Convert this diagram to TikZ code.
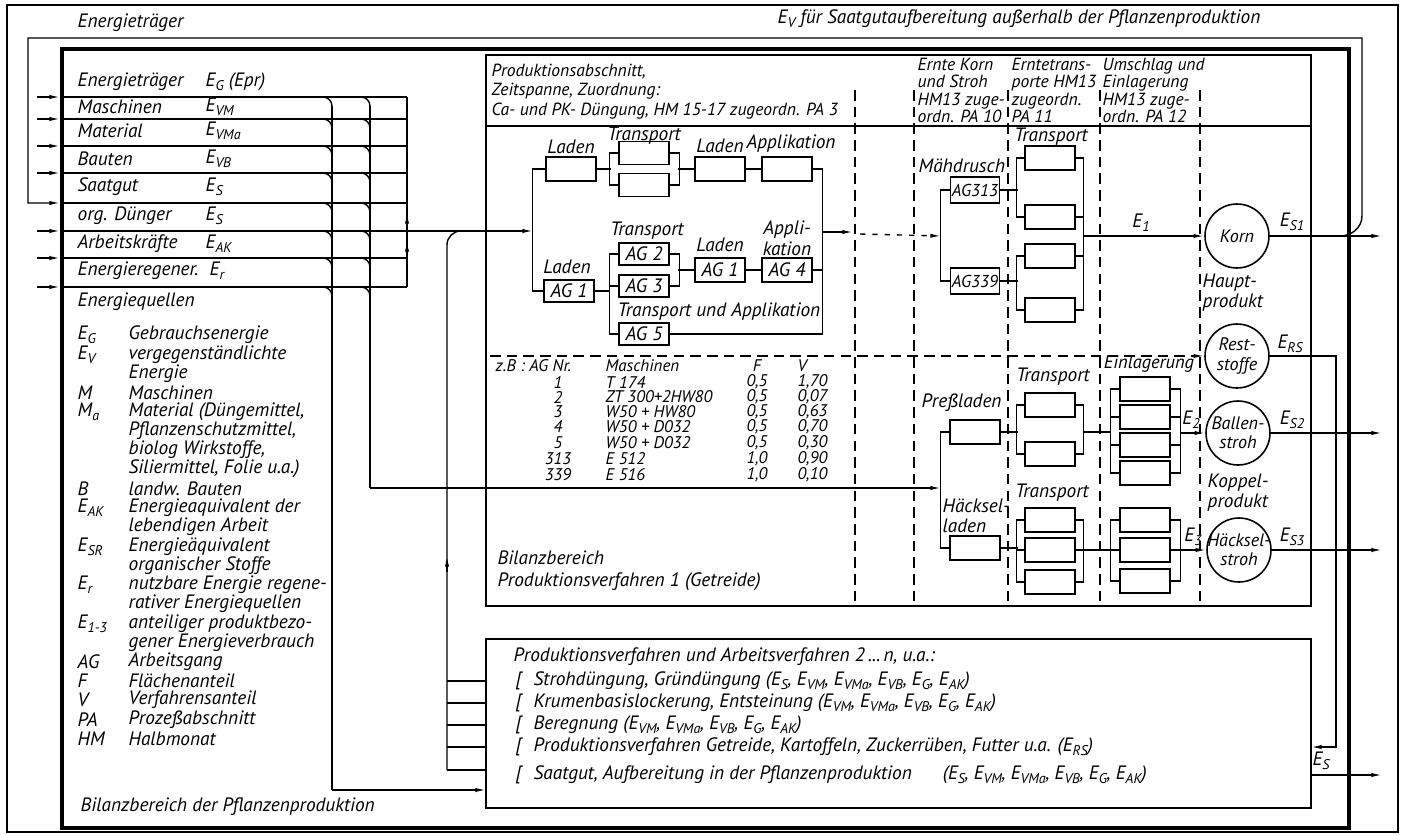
\documentclass[tikz,border=0pt]{standalone}
\usepackage{fontspec}
\setmainfont{PT Sans}
\usetikzlibrary{arrows.meta}
\newcommand\idx[1]{\raisebox{-0.45ex}{\fontsize{8}{8}\selectfont #1}}
\begin{document}
\begin{tikzpicture}[x=0.02cm,y=-0.02cm,line width=0.8pt,
    every node/.style={inner sep=0pt,font=\itshape\fontsize{11}{12}\selectfont},
    txt/.style={anchor=west},
    hd/.style={anchor=north west,align=left,font=\itshape\fontsize{10}{10}\selectfont},
    tab/.style={font=\itshape\fontsize{9.6}{9}\selectfont},
    blk/.style={draw,line width=0.9pt,minimum width=1.0cm,minimum height=0.48cm},
    prod/.style={draw,circle,line width=0.9pt,minimum size=1.28cm},
    ptxt/.style={align=center,font=\itshape\fontsize{10.3}{11}\selectfont},
    frm/.style={line width=2pt},
    flow/.style={-{Latex[length=6pt,width=2.4pt]}},
    sect/.style={dash pattern=on 6pt off 3.5pt}]
    \useasboundingbox (0,0) rectangle (1411,835);

    \draw (7,5) rectangle (1398,832);
    \draw[frm] (62,49) rectangle (1349,828);
    \draw[line width=1.4pt] (486,55) rectangle (1311,606);
    \draw[line width=1.4pt] (486,639) rectangle (1311,808);
    \draw (486,126) -- (1311,126);

    \node[txt] (etrg) at (77,23) {Energieträger};
    \node[txt] (evsa) at (777,19) {E\idx{V} für Saatgutaufbereitung außerhalb der Pflanzenproduktion};
    \node[txt] (bpfl) at (80,807) {Bilanzbereich der Pflanzenproduktion};

    \coordinate (ruek) at (1362,38);
    \coordinate (saat) at (60,203);
    \draw[flow] (1340,236) to[out=0,in=-90] (1362,216) -- (ruek) -- (28,38) -- (28,203) -- (saat);

    \foreach \y in {97,119,146,173,231,258,287}
        \draw[flow] (37,\y) -- (60,\y);
    \foreach \y in {97,119,146,173,203,231,258,287}
        \draw (60,\y) -- (407,\y);
    \draw (407,97) -- (407,287);
    \draw[flow] (407,226) -- (407,213);
    \draw[flow] (407,254) -- (407,241);
    \foreach \x in {332,370}
        \foreach \y in {97,119,146,173,203,231,258,287}
            \draw (\x-9,\y) to[out=0,in=90] (\x,\y+9);

    \coordinate (pv2in) at (486,790);
    \coordinate (strin) at (941,488);
    \coordinate (pa3in) at (533,231);
    \draw (332,106) -- (332,790);
    \draw[flow] (332,790) -- (pv2in);
    \draw (370,106) -- (370,488);
    \draw[flow] (370,488) -- (strin);
    \draw[flow] (407,231) -- (pa3in);
    \draw (447,770) -- (447,245) to[out=90,in=180] (461,231);
    \draw[flow] (447,572) -- (447,556);
    \foreach \y in {681,703,725,747,770}
        \draw (447,\y) -- (486,\y);

    \node[txt] at (77,82) {Energieträger};
    \node[txt] at (205,82) {E\idx{G} (Epr)};
    \node[txt] at (77,107) {Maschinen};
    \node[txt] at (205,107) {E\idx{VM}};
    \node[txt] at (77,131) {Material};
    \node[txt] at (205,131) {E\idx{VMa}};
    \node[txt] at (77,159) {Bauten};
    \node[txt] at (205,159) {E\idx{VB}};
    \node[txt] at (77,187) {Saatgut};
    \node[txt] at (205,187) {E\idx{S}};
    \node[txt] at (77,216) {org. Dünger};
    \node[txt] at (205,216) {E\idx{S}};
    \node[txt] at (77,244) {Arbeitskräfte};
    \node[txt] at (205,244) {E\idx{AK}};
    \node[txt] at (77,271) {Energieregener.};
    \node[txt] at (209,271) {E\idx{r}};
    \node[txt] at (77,302) {Energiequellen};

    \foreach \y/\s/\t in {335/E\idx{G}/Gebrauchsenergie, 355/E\idx{V}/vergegenständlichte,
            374//Energie, 393/M/Maschinen, 412/M\idx{a}/{Material (Düngemittel,},
            431//{Pflanzenschutzmittel,}, 450//{biolog Wirkstoffe,}, 469//{Siliermittel, Folie u.a.)},
            489/B/landw. Bauten, 508/E\idx{AK}/Energieaquivalent der, 527//lebendigen Arbeit,
            547/E\idx{SR}/Energieäquivalent, 566//organischer Stoffe,
            585/E\idx{r}/nutzbare Energie regene-, 604//rativer Energiequellen,
            624/E\idx{1-3}/anteiliger produktbezo-, 643//gener Energieverbrauch,
            662/AG/Arbeitsgang, 681/F/Flächenanteil, 700/V/Verfahrensanteil,
            720/PA/Prozeßabschnitt, 739/HM/Halbmonat}{
        \node[txt] at (77,\y) {\s};
        \node[txt] at (128,\y) {\t};
    }

    \node[anchor=north west,align=left,font=\itshape\fontsize{10}{11.2}\selectfont] (pabs) at (491,63)
        {Produktionsabschnitt,\\Zeitspanne, Zuordnung:\\Ca- und PK- Düngung, HM 15-17 zugeordn. PA 3};
    \node[hd] (hdk) at (917,57) {Ernte Korn\\und Stroh\\HM13 zuge-\\ordn. PA 10};
    \node[hd] (hdt) at (1011,57) {Erntetrans-\\porte HM13\\zugeordn.\\PA 11};
    \node[hd] (hde) at (1102,57) {Umschlag und\\Einlagerung\\HM13 zuge-\\ordn. PA 12};
    \foreach \x in {855,914,1008,1100,1200}
        \draw[sect] (\x,90) -- (\x,606);

    \node[blk] (ul1) at (571,169) {};
    \node[blk,minimum height=0.46cm] (ut1) at (644,153) {};
    \node[blk,minimum height=0.46cm] (ut2) at (644,185) {};
    \node[blk] (ul2) at (720,169) {};
    \node[blk] (uap) at (787,169) {};
    \node at (571,147) {Laden};
    \node at (644,136) {Transport};
    \node at (720,146) {Laden};
    \node at (791,144) {Applikation};

    \node[blk,minimum height=0.44cm] (ag1) at (569,291) {AG 1};
    \node[blk,minimum height=0.44cm] (ag2) at (644,254) {AG 2};
    \node[blk,minimum height=0.44cm] (ag3) at (644,286) {AG 3};
    \node[blk,minimum height=0.44cm] (ag5) at (644,334) {AG 5};
    \node[blk] (ag1m) at (720,270) {AG 1};
    \node[blk] (ag4) at (787,270) {AG 4};
    \node at (567,267) {Laden};
    \node at (647,231) {Transport};
    \node at (720,245) {Laden};
    \node[align=center,font=\itshape\fontsize{11}{12}\selectfont] at (787,238) {Appli-\\kation};
    \node[txt] at (617,312) {Transport und Applikation};

    \draw (ul1.west) -- ++(-13,0) |- (ag1.west);
    \draw (ul1.east) -- ++(14,0);
    \draw (ut1.west) -- ++(-8.5,0) |- (ut2.west);
    \draw (ut1.east) -- ++(9.5,0) |- (ut2.east);
    \draw (ul2.west) -- ++(-16,0);
    \draw (ul2.east) -- (uap.west);
    \draw (uap.east) -- ++(10,0) |- (ag5.east);
    \draw (ag1.east) -- ++(15,0);
    \draw (ag2.west) -- ++(-8.5,0) |- (ag5.west);
    \draw (ag3.west) -- ++(-8.5,0);
    \draw (ag2.east) -- ++(9.5,0) |- (ag3.east);
    \draw (ag1m.west) -- ++(-16,0);
    \draw (ag1m.east) -- (ag4.west);
    \draw (ag4.east) -- ++(10,0);
    \coordinate (pa3out) at (822,232);
    \coordinate (mdin) at (941,236);
    \draw[flow] (pa3out) -- ++(31,0);
    \draw[flow,dash pattern=on 3pt off 4pt] (860,234) -- (mdin);

    \node[tab,anchor=west] at (495,366) {z.B : AG Nr.};
    \node[tab,anchor=west] at (605,366) {Maschinen};
    \node[tab] at (757,366) {F};
    \node[tab,anchor=west] at (797,366) {V};
    \foreach \y/\n/\m/\f/\v in {382/1/T 174/{0,5}/{1,70}, 397/2/ZT 300+2HW80/{0,5}/{0,07},
            412/3/W50 + HW80/{0,5}/{0,63}, 427/4/W50 + D032/{0,5}/{0,70},
            443/5/W50 + D032/{0,5}/{0,30}, 459/313/E 512/{1,0}/{0,90},
            475/339/E 516/{1,0}/{0,10}}{
        \node[tab] at (558,\y) {\n};
        \node[tab,anchor=west] at (605,\y) {\m};
        \node[tab] at (757,\y) {\f};
        \node[tab,anchor=west] at (797,\y) {\v};
    }
    \draw[sect] (490,356) -- (1196,356);
    \node[txt] at (497,558) {Bilanzbereich};
    \node[txt] at (497,582) {Produktionsverfahren 1 (Getreide)};

    \node[blk,minimum width=0.98cm,minimum height=0.52cm,font=\itshape\fontsize{9.8}{10}\selectfont] (md1) at (975,190) {AG313};
    \node[blk,minimum width=0.98cm,minimum height=0.52cm,font=\itshape\fontsize{9.8}{10}\selectfont] (md2) at (975,281) {AG339};
    \node[txt] at (918,166) {Mähdrusch};
    \node[blk] (tk1) at (1050,158) {};
    \node[blk] (tk2) at (1050,217) {};
    \node[blk] (tk3) at (1050,256) {};
    \node[blk] (tk4) at (1050,310) {};
    \node at (1051,137) {Transport};
    \draw (md1.west) -- ++(-9.5,0) |- (md2.west);
    \draw (md1.east) -- ++(17.5,0);
    \draw (md2.east) -- ++(17.5,0);
    \draw (tk1.west) -- ++(-8,0) |- (tk2.west);
    \draw (tk3.west) -- ++(-8,0) |- (tk4.west);
    \draw (tk1.east) -- ++(8,0) |- (tk4.east);
    \draw (tk2.east) -- ++(8,0);
    \draw (tk3.east) -- ++(8,0);

    \node[prod] (korn) at (1237,236) {};
    \node[prod] (rest) at (1237,356) {};
    \node[prod] (ball) at (1238,433) {};
    \node[prod] (hst) at (1239,550) {};
    \node[ptxt] at (korn) {Korn};
    \node[ptxt] at (rest) {Rest-\\stoffe};
    \node[ptxt] at (ball) {Ballen-\\stroh};
    \node[ptxt] at (hst) {Häcksel-\\stroh};
    \draw[flow,dash pattern=on 6pt off 3.5pt] (1196,356) -- (rest.west);
    \node[txt,align=left,font=\itshape\fontsize{11}{11.5}\selectfont] at (1202,293) {Haupt-\\produkt};
    \node[txt,align=left,font=\itshape\fontsize{11}{11.5}\selectfont] at (1207,493) {Koppel-\\produkt};

    \coordinate (e1) at (1083,236);
    \draw[flow] (e1) -- (korn.west);
    \node at (1141,223) {E\idx{1}};

    \node[blk] (pl) at (975,432) {};
    \node[blk] (hl) at (975,548) {};
    \node[txt] at (921,403) {Preßladen};
    \node[txt,align=left,font=\itshape\fontsize{11}{11.5}\selectfont] at (942,516) {Häcksel-\\laden};
    \draw (pl.west) -- ++(-9,0) |- (hl.west);

    \node[blk] (tb1) at (1050,405) {};
    \node[blk] (tb2) at (1050,454) {};
    \node at (1053,377) {Transport};
    \draw (pl.east) -- ++(17,0);
    \draw (tb1.west) -- ++(-8,0) |- (tb2.west);
    \draw (tb1.east) -- ++(8,0) |- (tb2.east);
    \node[blk] (eb1) at (1145,389) {};
    \node[blk] (eb2) at (1145,417) {};
    \node[blk] (eb3) at (1145,445) {};
    \node[blk] (eb4) at (1145,473) {};
    \node[font=\itshape\fontsize{10.5}{11}\selectfont] at (1149,364) {Einlagerung};
    \draw (eb1.west) -- ++(-9,0) |- (eb4.west);
    \draw (eb2.west) -- ++(-9,0);
    \draw (eb3.west) -- ++(-9,0);
    \draw (eb1.east) -- ++(10,0) |- (eb4.east);
    \draw (eb2.east) -- ++(10,0);
    \draw (eb3.east) -- ++(10,0);
    \coordinate (tbo) at (1083,432);
    \coordinate (ebi) at (1111,432);
    \draw (tbo) -- (ebi);
    \coordinate (e2) at (1180,433);
    \draw[flow] (e2) -- (ball.west);
    \node at (1191,420) {E\idx{2}};

    \node[blk] (th1) at (1050,520) {};
    \node[blk] (th2) at (1050,550) {};
    \node[blk] (th3) at (1050,582) {};
    \node at (1052,493) {Transport};
    \draw (hl.east) -- ++(17,0);
    \draw (th1.west) -- ++(-8,0) |- (th3.west);
    \draw (th2.west) -- ++(-8,0);
    \draw (th1.east) -- ++(8,0) |- (th3.east);
    \draw (th2.east) -- ++(8,0);
    \node[blk] (eh1) at (1145,520) {};
    \node[blk] (eh2) at (1145,550) {};
    \node[blk] (eh3) at (1145,581) {};
    \draw (eh1.west) -- ++(-9,0) |- (eh3.west);
    \draw (eh2.west) -- ++(-9,0);
    \draw (eh1.east) -- ++(10,0) |- (eh3.east);
    \draw (eh2.east) -- ++(10,0);
    \coordinate (tho) at (1083,550);
    \coordinate (ehi) at (1111,550);
    \draw (tho) -- (ehi);
    \coordinate (e3) at (1180,550);
    \draw[flow] (e3) -- (hst.west);
    \node at (1193,537) {E\idx{3}};

    \coordinate (out1) at (1382,236);
    \coordinate (out2) at (1382,433);
    \coordinate (out3) at (1382,550);
    \draw[flow] (korn.east) -- (out1);
    \draw[flow] (ball.east) -- (out2);
    \draw[flow] (hst.east) -- (out3);
    \node at (1292,222) {E\idx{S1}};
    \node at (1290,344) {E\idx{RS}};
    \node at (1292,420) {E\idx{S2}};
    \node at (1292,537) {E\idx{S3}};

    \coordinate (ers) at (1311,747);
    \coordinate (esa) at (1311,775);
    \coordinate (esb) at (1382,775);
    \draw[flow] (rest.east) -| (1336,747) -- (ers);
    \draw[flow] (esa) -- (esb);
    \node at (1321,761) {E\idx{S}};

    \node[txt] at (513,657) {Produktionsverfahren und Arbeitsverfahren 2\,...\,n, u.a.:};
    \foreach \y/\t in {681/{Strohdüngung, Gründüngung (E\idx{S}, E\idx{VM}, E\idx{VMa}, E\idx{VB}, E\idx{G}, E\idx{AK})},
            703/{Krumenbasislockerung, Entsteinung (E\idx{VM}, E\idx{VMa}, E\idx{VB}, E\idx{G}, E\idx{AK})},
            725/{Beregnung (E\idx{VM}, E\idx{VMa}, E\idx{VB}, E\idx{G}, E\idx{AK})},
            747/{Produktionsverfahren Getreide, Kartoffeln, Zuckerrüben, Futter u.a. (E\idx{RS})},
            775/{Saatgut, Aufbereitung in der Pflanzenproduktion\hspace{1.6em}(E\idx{S}, E\idx{VM}, E\idx{VMa}, E\idx{VB}, E\idx{G}, E\idx{AK})}}{
        \node[txt] at (515,\y) {[};
        \node[txt] at (533,\y) {\t};
    }
\end{tikzpicture}
\end{document}
